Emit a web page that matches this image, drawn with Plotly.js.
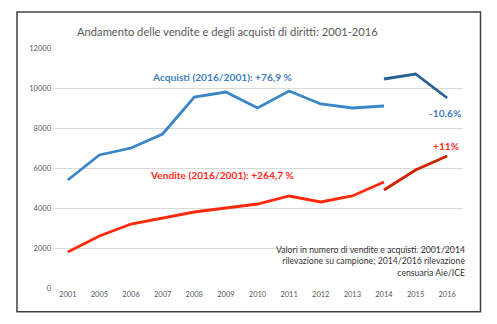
<!DOCTYPE html>
<html>
<head>
<meta charset="utf-8">
<script src="https://cdn.plot.ly/plotly-3.0.1.min.js"></script>
<style>html,body{margin:0;padding:0;background:#fff;}#chart{width:497px;height:324px;}</style>
</head>
<body>
<div id="chart"></div>
<script>
const years = ['2001','2005','2006','2007','2008','2009','2010','2011','2012','2013','2014','2015','2016'];
const yearsSample = ['2001','2005','2006','2007','2008','2009','2010','2011','2012','2013','2014'];
const yearsCensus = ['2014','2015','2016'];
const acquistiSample = [5400, 6650, 7000, 7700, 9550, 9800, 9000, 9850, 9200, 9000, 9100];
const acquistiCensus = [10450, 10700, 9500];
const venditeSample = [1800, 2600, 3200, 3500, 3800, 4000, 4200, 4600, 4300, 4600, 5300];
const venditeCensus = [4900, 5900, 6600];
const yTicks = [0, 2000, 4000, 6000, 8000, 10000, 12000];

const F = 'Lato, "Open Sans", sans-serif';
const traces = [
  {x: yearsSample, y: acquistiSample, type: 'scatter', mode: 'lines', line: {color: '#3b86c6', width: 2.8}, hoverinfo: 'none'},
  {x: yearsCensus, y: acquistiCensus, type: 'scatter', mode: 'lines', line: {color: '#2b6193', width: 2.8}, hoverinfo: 'none'},
  {x: yearsSample, y: venditeSample, type: 'scatter', mode: 'lines', line: {color: '#ff2a0a', width: 2.8}, hoverinfo: 'none'},
  {x: yearsCensus, y: venditeCensus, type: 'scatter', mode: 'lines', line: {color: '#cf2200', width: 2.8}, hoverinfo: 'none'}
];

const layout = {
  width: 497, height: 324,
  margin: {l: 52, r: 34, t: 48, b: 36},
  showlegend: false,
  paper_bgcolor: '#ffffff', plot_bgcolor: '#ffffff',
  font: {family: F, color: '#595959'},
  title: {text: 'Andamento delle vendite e degli acquisti di diritti: 2001-2016', font: {family: F, size: 11.2, color: '#595959'}, x: 0.155, xanchor: 'left', y: 0.9, yanchor: 'middle', yref: 'container'},
  xaxis: {type: 'category', categoryarray: years, categoryorder: 'array', range: [-0.5, years.length - 0.5], showgrid: false, zeroline: false, showline: false, ticks: '', tickfont: {family: F, size: 7.5, color: '#595959'}, fixedrange: true},
  yaxis: {range: [0, 12000], tickvals: yTicks, ticktext: yTicks.map(String), showgrid: true, gridcolor: '#d9d9d9', gridwidth: 1, zeroline: false, showline: false, ticks: '', ticklen: 0, tickfont: {family: F, size: 7.5, color: '#595959'}, automargin: false, fixedrange: true},
  shapes: [
    {type: 'rect', xref: 'paper', yref: 'paper', x0: -0.0852, x1: 1.0426, y0: -0.099, y1: 1.15, line: {color: '#404040', width: 1.5}, fillcolor: 'rgba(0,0,0,0)', layer: 'below'}
  ],
  annotations: [
    {text: '<b>Acquisti (2016/2001): +76,9 %</b>', xref: 'paper', yref: 'paper', x: (222-52)/411, y: (288-77)/240, xanchor: 'center', yanchor: 'middle', showarrow: false, font: {family: F, size: 10.2, color: '#3c80c2'}},
    {text: '<b>Vendite (2016/2001): +264,7 %</b>', xref: 'paper', yref: 'paper', x: (222-52)/411, y: (288-174.5)/240, xanchor: 'center', yanchor: 'middle', showarrow: false, font: {family: F, size: 10.2, color: '#ff2a1a'}},
    {text: '<b>-10,6%</b>', xref: 'paper', yref: 'paper', x: (445-52)/411, y: (288-112.5)/240, xanchor: 'center', yanchor: 'middle', showarrow: false, font: {family: F, size: 10.2, color: '#3c80c2'}},
    {text: '<b>+11%</b>', xref: 'paper', yref: 'paper', x: (446-52)/411, y: (288-146)/240, xanchor: 'center', yanchor: 'middle', showarrow: false, font: {family: F, size: 10.2, color: '#ff2a1a'}},
    {text: 'Valori in numero di vendite e acquisti. 2001/2014<br>rilevazione su campione; 2014/2016 rilevazione<br>censuaria Aie/ICE', xref: 'paper', yref: 'paper', x: (467-52)/411, y: (288-261)/240, xanchor: 'right', yanchor: 'middle', align: 'right', showarrow: false, font: {family: F, size: 8.7, color: '#333333'}}
  ]
};

Plotly.newPlot('chart', traces, layout, {staticPlot: true, displayModeBar: false});
</script>
</body>
</html>
